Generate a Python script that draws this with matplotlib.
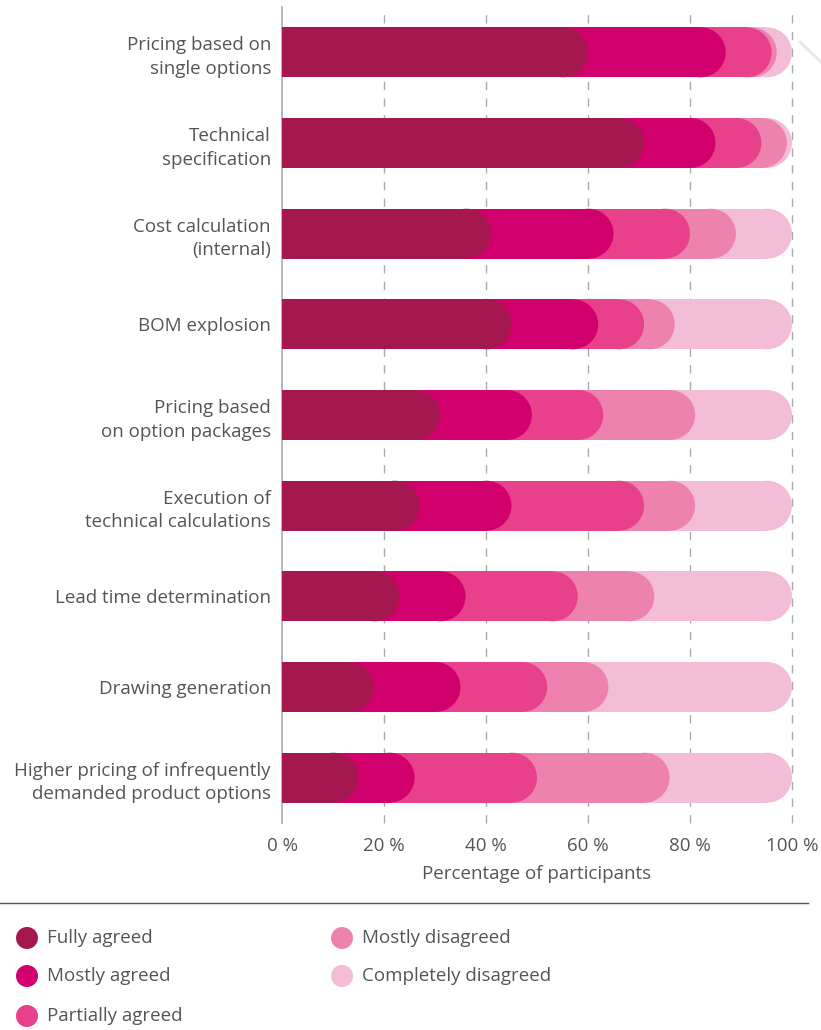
import numpy as np
import matplotlib.pyplot as plt
from matplotlib.patches import Rectangle, Ellipse
from matplotlib.lines import Line2D

plt.rcParams["font.family"] = ["Open Sans", "DejaVu Sans"]

# -------------------------------------------------
# Survey data (share of participants, %)
# -------------------------------------------------

categories = [
    "Pricing based on\nsingle options",
    "Technical\nspecification",
    "Cost calculation\n(internal)",
    "BOM explosion",
    "Pricing based\non option packages",
    "Execution of\ntechnical calculations",
    "Lead time determination",
    "Drawing generation",
    "Higher pricing of infrequently\ndemanded product options",
]

responses = [
    "Fully agreed",
    "Mostly agreed",
    "Partially agreed",
    "Mostly disagreed",
    "Completely disagreed",
]

fully_agreed = [60, 71, 41, 45, 31, 27, 23, 18, 15]
mostly_agreed = [27, 14, 24, 17, 18, 18, 13, 17, 11]
partially_agreed = [9, 9, 15, 9, 14, 26, 22, 17, 24]
mostly_disagreed = [1, 5, 9, 6, 18, 10, 15, 12, 26]
completely_disagreed = [3, 1, 11, 23, 19, 19, 27, 36, 24]

colors = ["#A5184F", "#D1006C", "#E8408B", "#EE82AE", "#F4BDD7"]
text_color = "#555555"

series = np.array([
    fully_agreed,
    mostly_agreed,
    partially_agreed,
    mostly_disagreed,
    completely_disagreed,
])
cumulative = np.cumsum(series, axis=0)

# -------------------------------------------------
# Figure layout
# -------------------------------------------------

W, H = 821, 1030
fig = plt.figure(figsize=(W / 100, H / 100), dpi=100)
ax = fig.add_axes([282 / W, (H - 823) / H, 510 / W, 816 / H])

n = len(categories)
ypos = np.arange(n)
bar_h = 0.55

ax.set_xlim(0, 100)
ax.set_ylim(n - 0.5, -0.5)

# half bar height in x data units, so caps are true semicircles
px_per_x = 510 / 100
px_per_y = 816 / n
cap_r = bar_h * px_per_y / 2 / px_per_x

# draw the longest running totals first, shorter ones stack on top
for k in range(len(responses) - 1, -1, -1):
    for i in range(n):
        end = cumulative[k, i]
        ax.add_patch(Rectangle((0, ypos[i] - bar_h / 2), end - cap_r, bar_h,
                               facecolor=colors[k], edgecolor="none",
                               zorder=3 + (5 - k)))
        ax.add_patch(Ellipse((end - cap_r, ypos[i]), 2 * cap_r, bar_h,
                             facecolor=colors[k], edgecolor="none",
                             zorder=3 + (5 - k)))

# -------------------------------------------------
# Axes styling
# -------------------------------------------------

ax.set_yticks(ypos)
ax.set_yticklabels(categories, fontsize=13.5, color=text_color, linespacing=1.4)
ax.set_xticks([0, 20, 40, 60, 80, 100])
ax.set_xticklabels(["0 %", "20 %", "40 %", "60 %", "80 %", "100 %"],
                   fontsize=13.5, color=text_color)
ax.tick_params(axis="y", length=0, pad=8)
ax.tick_params(axis="x", length=0, pad=10)

for x in [20, 40, 60, 80, 100]:
    ax.axvline(x, color="#AAAAAA", linewidth=1, linestyle=(0, (6, 6)),
               zorder=1, clip_on=False)

for side in ["top", "right", "bottom"]:
    ax.spines[side].set_visible(False)
ax.spines["left"].set_color("#AAAAAA")
ax.spines["left"].set_linewidth(1.2)

ax.set_xlabel("Percentage of participants", fontsize=13.5, color=text_color)
ax.xaxis.set_label_coords(0.5, -0.052)

# -------------------------------------------------
# Legend
# -------------------------------------------------

fig.add_artist(Line2D([0, 808 / W], [1 - 903 / H, 1 - 903 / H],
                      color="#555555", linewidth=1))
fig.add_artist(Line2D([800 / W, 1.0], [1 - 42 / H, 1 - 62 / H],
                      color="#E6E6E6", linewidth=2))

legend_pos = [(27, 938), (27, 976), (27, 1016), (342, 938), (342, 976)]
for (lx, ly), label, c in zip(legend_pos, responses, colors):
    fig.add_artist(Ellipse((lx / W, 1 - ly / H), 22 / W, 22 / H,
                           facecolor=c, edgecolor="none",
                           transform=fig.transFigure))
    fig.text((lx + 20) / W, 1 - ly / H, label, fontsize=13.5,
             color=text_color, va="center", ha="left")

plt.savefig("out.png", dpi=100)
